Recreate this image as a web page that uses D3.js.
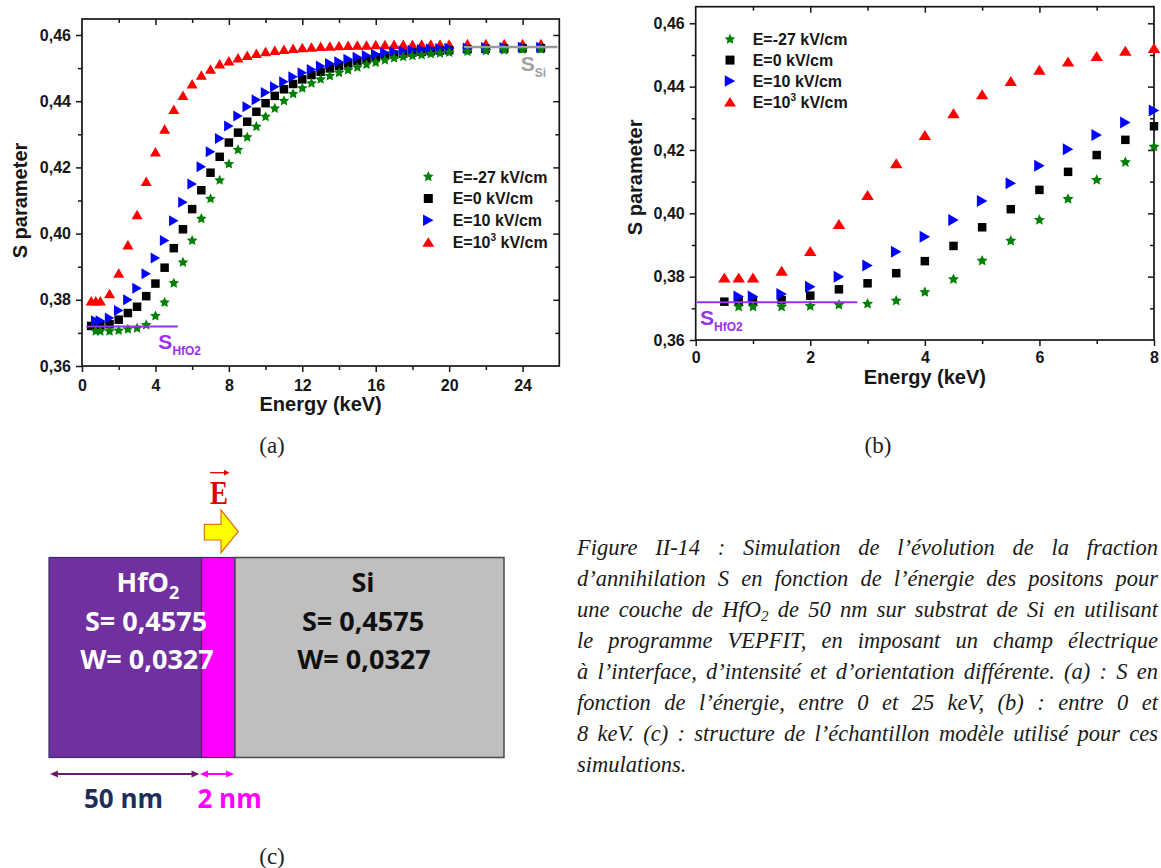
<!DOCTYPE html>
<html><head><meta charset="utf-8">
<script src="https://cdn.jsdelivr.net/npm/d3@7"></script>
<style>body{margin:0;background:#fff}svg{display:block}</style>
</head><body>
<svg id="c" width="1161" height="868"></svg>
<script>
// ---------------- DATA ----------------
const energy = [0.5, 0.75, 1, 1.5, 2, 2.5, 3, 3.5, 4, 4.5, 5, 5.5, 6, 6.5, 7, 7.5, 8, 8.5, 9, 9.5, 10, 10.5, 11, 11.5, 12, 12.5, 13, 13.5, 14, 14.5, 15, 15.5, 16, 16.5, 17, 17.5, 18, 18.5, 19, 19.5, 20, 21, 22, 23, 24, 25];
const sFieldM27 = [null, 0.3705, 0.3705, 0.3705, 0.3707, 0.3711, 0.3714, 0.3724, 0.3751, 0.3792, 0.3850, 0.3913, 0.3979, 0.4045, 0.4105, 0.4161, 0.4210, 0.4253, 0.4291, 0.4323, 0.4353, 0.4378, 0.4401, 0.4422, 0.4439, 0.4454, 0.4466, 0.4476, 0.4486, 0.4494, 0.4502, 0.4511, 0.4517, 0.4524, 0.4530, 0.4534, 0.4537, 0.4540, 0.4543, 0.4545, 0.4547, 0.4550, 0.4552, 0.4554, 0.4556, 0.4557];
const sField0 = [0.3721, 0.3722, 0.3723, 0.3726, 0.3740, 0.3760, 0.3779, 0.3811, 0.3849, 0.3897, 0.3956, 0.4013, 0.4074, 0.4131, 0.4184, 0.4232, 0.4275, 0.4305, 0.4338, 0.4368, 0.4394, 0.4416, 0.4436, 0.4452, 0.4466, 0.4479, 0.4489, 0.4499, 0.4506, 0.4514, 0.4521, 0.4527, 0.4532, 0.4537, 0.4541, 0.4544, 0.4547, 0.4549, 0.4551, 0.4553, 0.4554, 0.4557, 0.4558, 0.4559, 0.4560, 0.4560];
const sField10 = [null, 0.3737, 0.3737, 0.3745, 0.3768, 0.3800, 0.3835, 0.3879, 0.3926, 0.3979, 0.4039, 0.4095, 0.4150, 0.4202, 0.4247, 0.4287, 0.4325, 0.4355, 0.4383, 0.4404, 0.4426, 0.4444, 0.4459, 0.4474, 0.4486, 0.4496, 0.4506, 0.4514, 0.4519, 0.4527, 0.4533, 0.4538, 0.4542, 0.4546, 0.4549, 0.4552, 0.4554, 0.4556, 0.4558, 0.4559, 0.4560, 0.4561, 0.4562, 0.4562, 0.4563, 0.4563];
const sField1000 = [0.3797, 0.3797, 0.3797, 0.3819, 0.3881, 0.3966, 0.4058, 0.4158, 0.4247, 0.4316, 0.4376, 0.4418, 0.4453, 0.4479, 0.4497, 0.4513, 0.4522, 0.4531, 0.4539, 0.4545, 0.4550, 0.4554, 0.4557, 0.4560, 0.4562, 0.4564, 0.4566, 0.4567, 0.4568, 0.4569, 0.4570, 0.4570, 0.4571, 0.4571, 0.4572, 0.4572, 0.4572, 0.4573, 0.4573, 0.4573, 0.4573, 0.4574, 0.4574, 0.4574, 0.4574, 0.4574];
const seriesLabels = ["E=-27 kV/cm", "E=0 kV/cm", "E=10 kV/cm", "E=10|3| kV/cm"];
const xTicksA = [0, 4, 8, 12, 16, 20, 24];
const xMinorA = [2, 6, 10, 14, 18, 22, 26];
const xTicksB = [0, 2, 4, 6, 8];
const xMinorB = [1, 3, 5, 7];
const yTicks = [0.36, 0.38, 0.40, 0.42, 0.44, 0.46];
const yMinor = [0.37, 0.39, 0.41, 0.43, 0.45];
const sHfO2 = 0.3719;
const sSi = 0.4564;
const hfo2LineA = [0.23, 5.22], hfo2LineB = [0.02, 2.82], siLineA = [20.8, 25.9];

// ---------------- SETUP ----------------
const svg = d3.select("#c");
const SANS = "'Liberation Sans', Arial, sans-serif";
const INK = "#161616";

function starPath(r) {
  const ri = r * 0.48; let p = "";
  for (let i = 0; i < 10; i++) {
    const a = -Math.PI / 2 + i * Math.PI / 5, rr = i % 2 ? ri : r;
    p += (i ? "L" : "M") + (rr * Math.cos(a)).toFixed(2) + "," + (rr * Math.sin(a)).toFixed(2);
  }
  return p + "Z";
}
const shapes = {
  star: s => starPath(s.r),
  square: s => `M${-s.sq/2},${-s.sq/2}h${s.sq}v${s.sq}h${-s.sq}Z`,
  right: s => `M${-s.tw/2},${-s.th/2}L${s.tw/2},0L${-s.tw/2},${s.th/2}Z`,
  up: s => `M0,${-s.uh/2}L${s.uw/2},${s.uh/2}L${-s.uw/2},${s.uh/2}Z`
};
const series = [
  {vals: sFieldM27, color: "#008000", shape: "star", label: seriesLabels[0]},
  {vals: sField0, color: "#000000", shape: "square", label: seriesLabels[1]},
  {vals: sField10, color: "#0000ff", shape: "right", label: seriesLabels[2]},
  {vals: sField1000, color: "#ff0000", shape: "up", label: seriesLabels[3]}
];
const drawOrder = [3, 1, 2, 0];
const fmtY = d => d3.format(".2f")(d).replace(".", ",");

function styleAxis(sel) {
  sel.select(".domain").remove();
  sel.selectAll("line").attr("stroke", INK).attr("stroke-width", 1.5);
  sel.attr("font-family", SANS).attr("font-size", 16).attr("font-weight", "bold");
  sel.selectAll("text").attr("fill", INK);
}

function drawPanel(p) {
  const x = d3.scaleLinear().domain(p.xDomain).range([p.left, p.right]);
  const y = d3.scaleLinear().domain(p.yDomain).range([p.bottom, p.top]);
  const g = svg.append("g");
  g.append("g").attr("transform", `translate(0,${p.bottom})`)
    .call(d3.axisBottom(x).tickValues(p.xMajor).tickFormat(d3.format("d")).tickSize(6).tickSizeOuter(0).tickPadding(p.xPad)).call(styleAxis);
  g.append("g").attr("transform", `translate(0,${p.bottom})`)
    .call(d3.axisBottom(x).tickValues(p.xMinor.filter(v => v < p.xDomain[1])).tickFormat("").tickSize(4).tickSizeOuter(0)).call(styleAxis);
  g.append("g").attr("transform", `translate(0,${p.top})`)
    .call(d3.axisBottom(x).tickValues(p.xMajor.filter(v => v > p.xDomain[0] && v < p.xDomain[1])).tickFormat("").tickSize(6).tickSizeOuter(0)).call(styleAxis);
  g.append("g").attr("transform", `translate(0,${p.top})`)
    .call(d3.axisBottom(x).tickValues(p.xMinor.filter(v => v < p.xDomain[1])).tickFormat("").tickSize(4).tickSizeOuter(0)).call(styleAxis);
  g.append("g").attr("transform", `translate(${p.left},0)`)
    .call(d3.axisLeft(y).tickValues(yTicks).tickFormat(fmtY).tickSize(6).tickSizeOuter(0).tickPadding(5)).call(styleAxis);
  g.append("g").attr("transform", `translate(${p.left},0)`)
    .call(d3.axisLeft(y).tickValues(yMinor).tickFormat("").tickSize(4).tickSizeOuter(0)).call(styleAxis);
  g.append("g").attr("transform", `translate(${p.right},0)`)
    .call(d3.axisLeft(y).tickValues(yTicks.filter(v => v > p.yDomain[0])).tickFormat("").tickSize(6).tickSizeOuter(0)).call(styleAxis);
  g.append("g").attr("transform", `translate(${p.right},0)`)
    .call(d3.axisLeft(y).tickValues(yMinor).tickFormat("").tickSize(4).tickSizeOuter(0)).call(styleAxis);
  g.append("rect").attr("x", p.left).attr("y", p.top).attr("width", p.right - p.left).attr("height", p.bottom - p.top)
    .attr("fill", "none").attr("stroke", INK).attr("stroke-width", 1.7);
  g.append("text").attr("x", (p.left + p.right) / 2).attr("y", p.xTitleY).attr("text-anchor", "middle")
    .attr("font-family", SANS).attr("font-weight", "bold").attr("font-size", 20).attr("fill", INK).text("Energy (keV)");
  g.append("text").attr("transform", `translate(${p.yTitleX},${(p.top + p.bottom) / 2 + p.yTitleDy}) rotate(-90)`).attr("text-anchor", "middle")
    .attr("font-family", SANS).attr("font-weight", "bold").attr("font-size", 20).attr("fill", INK).text("S parameter");
  drawOrder.forEach(si => {
    const s = series[si];
    const pts = energy.map((e, i) => ({e, v: s.vals[i]})).filter(d => d.v != null && d.e <= p.xDomain[1]);
    g.append("g").selectAll("path").data(pts).join("path")
      .attr("d", shapes[s.shape](p.sym)).attr("fill", s.color)
      .attr("transform", d => `translate(${x(d.e)},${y(d.v)})`);
  });
  g.append("line").attr("x1", x(p.hfo2[0])).attr("x2", x(p.hfo2[1])).attr("y1", y(sHfO2)).attr("y2", y(sHfO2))
    .attr("stroke", "#9a30f0").attr("stroke-width", 2);
  const th = g.append("text").attr("x", x(p.hfo2Label[0])).attr("y", y(p.hfo2Label[1]))
    .attr("font-family", SANS).attr("font-weight", "bold").attr("fill", "#9a30f0").attr("font-size", 21);
  th.append("tspan").text("S");
  th.append("tspan").attr("font-size", 12).attr("dy", 6).text("HfO2");
  if (p.si) {
    g.append("line").attr("x1", x(p.si[0])).attr("x2", x(p.si[1])).attr("y1", y(sSi)).attr("y2", y(sSi))
      .attr("stroke", "#999999").attr("stroke-width", 2.5);
    const ts = g.append("text").attr("x", x(p.siLabel[0])).attr("y", y(p.siLabel[1]))
      .attr("font-family", SANS).attr("font-weight", "bold").attr("fill", "#a0a0a0").attr("font-size", 21);
    ts.append("tspan").text("S");
    ts.append("tspan").attr("font-size", 12).attr("dy", 6).text("Si");
  }
  const lg = g.append("g");
  series.forEach((s, i) => {
    const cy = p.leg.y + i * p.leg.dy;
    lg.append("path").attr("d", shapes[s.shape](p.legSym)).attr("fill", s.color)
      .attr("transform", `translate(${p.leg.x},${cy})`);
    const parts = s.label.split("|");
    const t = lg.append("text").attr("x", p.leg.tx).attr("y", cy + 5.8)
      .attr("font-family", SANS).attr("font-weight", "bold").attr("font-size", 16).attr("fill", INK);
    t.append("tspan").text(parts[0]);
    if (parts.length > 1) {
      t.append("tspan").attr("font-size", 10).attr("dy", -7).text(parts[1]);
      t.append("tspan").attr("dy", 7).text(parts[2]);
    }
  });
}

drawPanel({
  xDomain: [0, 26], yDomain: [0.36, 0.46483], left: 82, right: 559.3, top: 19, bottom: 366,
  xMajor: xTicksA, xMinor: xMinorA, xPad: 8, xTitleY: 411, yTitleX: 27, yTitleDy: 8,
  sym: {r: 5.6, sq: 8.5, tw: 9.5, th: 11, uw: 11, uh: 9.5},
  legSym: {r: 5.6, sq: 9, tw: 10.5, th: 11.5, uw: 12, uh: 9.5},
  hfo2: hfo2LineA, hfo2Label: [4.16, 0.3650], si: siLineA, siLabel: [23.9, 0.4491],
  leg: {x: 428.3, tx: 452.7, y: 176.7, dy: 21.8}
});
drawPanel({
  xDomain: [0, 8], yDomain: [0.36, 0.46524], left: 695.7, right: 1154, top: 6.7, bottom: 340,
  xMajor: xTicksB, xMinor: xMinorB, xPad: 6, xTitleY: 384, yTitleX: 642, yTitleDy: 4,
  sym: {r: 5.8, sq: 8.5, tw: 10.5, th: 12, uw: 12.5, uh: 10},
  legSym: {r: 5.6, sq: 9, tw: 10.5, th: 11.5, uw: 12, uh: 9.5},
  hfo2: hfo2LineB, hfo2Label: [0.075, 0.3647], si: null,
  leg: {x: 730, tx: 752.7, y: 39.3, dy: 20.8}
});

const SERIF = "'Liberation Serif', 'Times New Roman', serif";
[["(a)", 272, 453], ["(b)", 878, 453], ["(c)", 272, 864]].forEach(([t, x, y]) =>
  svg.append("text").attr("x", x).attr("y", y).attr("text-anchor", "middle").attr("font-family", SERIF)
    .attr("font-size", 23).attr("fill", "#222").text(t));

// ---------------- PANEL (c): sample structure ----------------
const gc = svg.append("g");
const OS = "'Open Sans', 'Noto Sans', sans-serif";
gc.append("rect").attr("x", 49).attr("y", 557.5).attr("width", 152.5).attr("height", 200).attr("fill", "#7030a0").attr("stroke", "#3b2d6e").attr("stroke-width", 1.2);
gc.append("rect").attr("x", 201.5).attr("y", 557.5).attr("width", 33.5).attr("height", 200).attr("fill", "#ff00ff").attr("stroke", "#3b2d6e").attr("stroke-width", 1.2);
gc.append("rect").attr("x", 235).attr("y", 557.5).attr("width", 269).attr("height", 200).attr("fill", "#bfbfbf").attr("stroke", "#4a4a4a").attr("stroke-width", 1.5);
const hf = gc.append("text").attr("x", 116.5).attr("y", 591.7).attr("font-family", OS).attr("font-weight", "bold").attr("font-size", 27).attr("fill", "#fff");
hf.append("tspan").text("HfO");
hf.append("tspan").attr("font-size", 18).attr("dy", 7).text("2");
[["S= 0,4575", 146, 630.7, "#fff"], ["W= 0,0327", 147, 669.3, "#fff"], ["Si", 363, 591.7, "#111"], ["S= 0,4575", 363, 630.7, "#111"], ["W= 0,0327", 364, 669.3, "#111"]]
  .forEach(([t, x, y, c]) => gc.append("text").attr("x", x).attr("y", y).attr("text-anchor", "middle")
    .attr("font-family", OS).attr("font-weight", "bold").attr("font-size", 27).attr("fill", c).text(t));
gc.append("text").attr("x", 210).attr("y", 503.5).attr("font-family", SERIF).attr("font-weight", "bold")
  .attr("font-size", 33).attr("textLength", 18).attr("lengthAdjust", "spacingAndGlyphs").attr("fill", "#e00000").text("E");
gc.append("line").attr("x1", 210).attr("x2", 227).attr("y1", 472.7).attr("y2", 472.7).attr("stroke", "#e00000").attr("stroke-width", 1.3);
gc.append("path").attr("d", "M229.5,472.7L224,469.8L224,475.6Z").attr("fill", "#e00000");
gc.append("path").attr("d", "M204.3,524.3H221V510L238.3,531.5L221,552.7V540H204.3Z").attr("fill", "#ffff00").attr("stroke", "#e07010").attr("stroke-width", 1.2);
function dimArrow(x1, x2, y, c) {
  gc.append("line").attr("x1", x1 + 3).attr("x2", x2 - 3).attr("y1", y).attr("y2", y).attr("stroke", c).attr("stroke-width", 2);
  gc.append("path").attr("d", `M${x1},${y}L${x1 + 8},${y - 3.5}L${x1 + 8},${y + 3.5}Z`).attr("fill", c);
  gc.append("path").attr("d", `M${x2},${y}L${x2 - 8},${y - 3.5}L${x2 - 8},${y + 3.5}Z`).attr("fill", c);
}
dimArrow(50, 199.5, 774, "#6b1b6b");
dimArrow(200, 234, 774, "#ff00ff");
gc.append("text").attr("x", 84).attr("y", 808.3).attr("font-family", OS).attr("font-weight", "bold").attr("font-size", 26).attr("fill", "#1f2d5a").text("50 nm");
gc.append("text").attr("x", 197.5).attr("y", 808.3).attr("font-family", OS).attr("font-weight", "bold").attr("font-size", 26).attr("fill", "#ff00ff").text("2 nm");

// ---------------- CAPTION ----------------
const captionLines = [
  [["Figure II-14 : Simulation de l’évolution de la fraction"]],
  [["d’annihilation S en fonction de l’énergie des positons pour"]],
  [["une couche de HfO"], ["2", "sub"], [" de 50 nm sur substrat de Si en utilisant", "after"]],
  [["le programme VEPFIT, en imposant un champ électrique"]],
  [["à l’interface, d’intensité et d’orientation différente. (a) : S en"]],
  [["fonction de l’énergie, entre 0 et 25 keV, (b) : entre 0 et"]],
  [["8 keV. (c) : structure de l’échantillon modèle utilisé pour ces"]],
  [["simulations."]]
];
const capX = 577, capRight = 1158, capY0 = 555, capDy = 31;
captionLines.forEach((segs, i) => {
  const t = svg.append("text").attr("x", capX).attr("y", capY0 + i * capDy)
    .attr("font-family", SERIF).attr("font-style", "italic").attr("font-size", 22.5).attr("fill", "#1a1a1a");
  let full = "";
  segs.forEach(([s, kind]) => {
    full += s;
    if (kind === "sub") t.append("tspan").attr("font-size", 15).attr("dy", 4).text(s);
    else if (kind === "after") t.append("tspan").attr("dy", -4).text(s);
    else t.append("tspan").text(s);
  });
  if (i < captionLines.length - 1) {
    const w = t.node().getComputedTextLength();
    const n = (full.match(/ /g) || []).length;
    t.style("word-spacing", ((capRight - capX - w) / n) + "px");
  }
});
</script>
</body></html>
